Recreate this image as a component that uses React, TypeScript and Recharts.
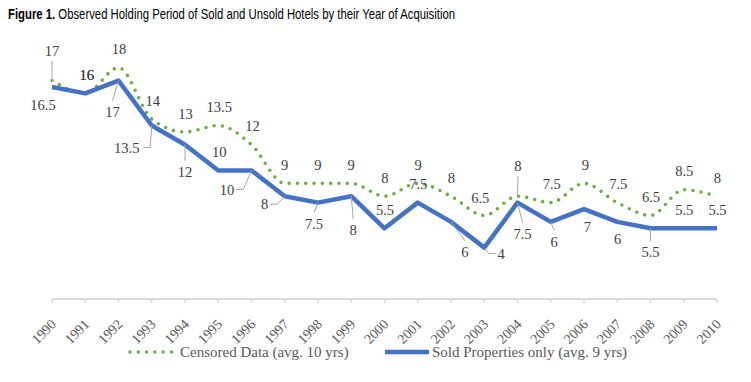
import React from 'react';
import { LineChart, Line, XAxis, YAxis, LabelList } from 'recharts';

// Figure 1 — holding period (years) by year of acquisition
const YEARS = [
  '1990', '1991', '1992', '1993', '1994', '1995', '1996', '1997', '1998', '1999', '2000',
  '2001', '2002', '2003', '2004', '2005', '2006', '2007', '2008', '2009', '2010',
];
const CENSORED = [17, 16, 18, 14, 13, 13.5, 12, 9, 9, 9, 8, 9, 8, 6.5, 8, 7.5, 9, 7.5, 6.5, 8.5, 8];
const SOLD = [16.5, 16, 17, 13.5, 12, 10, 10, 8, 7.5, 8, 5.5, 7.5, 6, 4, 7.5, 6, 7, 6, 5.5, 5.5, 5.5];

const CENSORED_NAME = 'Censored Data (avg. 10 yrs)';
const SOLD_NAME = 'Sold Properties only (avg. 9 yrs)';

// Data label placement, relative to the point: [dx, dy, leader]
// leader: '' none, 'v' from label top/bottom, 's' side stub
type LabelPos = [number, number, string];
const CENSORED_LABELS: LabelPos[] = [
  [0, -30, 'v'], [1.5, -18.5, ''], [0.5, -19, ''], [1, -18.5, ''], [0.5, -18.5, ''],
  [1, -18.5, ''], [1, -18.5, ''], [0, -18.5, ''], [0, -18.5, ''], [0, -18.5, ''],
  [0.5, -18, ''], [0.5, -18.5, ''], [0.5, -18, ''], [-4, -18, ''], [0.5, -30, 'v'],
  [1, -18.5, ''], [1.5, -18.5, ''], [1, -18.5, ''], [0.5, -18.5, ''], [0.5, -18.5, ''],
  [0.5, -18, ''],
];
const SOLD_LABELS: LabelPos[] = [
  [-9, 18, ''], [1.5, -19, ''], [-6, 31, 'v'], [-25, 22, 's'], [0, 27, 'v'],
  [1, -19, ''], [-24.5, 19, 's'], [-20, 8, 's'], [-4, 21, 'v'], [2, 34, 'v'],
  [0.5, -18, ''], [0.5, -19, ''], [14, 30, 'v'], [17, 6, 's'], [5, 31, 'v'],
  [3.5, 20, 'v'], [3.5, 18, ''], [0.5, 17, ''], [0, 24, 'v'], [0.5, -18, ''],
  [0.5, -18, ''],
];

const GREEN = '#70AD47';
const BLUE = '#4472C4';
const AXIS_GREY = '#D9D9D9';
const LEADER_GREY = '#A6A6A6';
const LABEL_INK = '#404040';
const TICK_INK = '#595959';
const SERIF = '"Liberation Serif", "Times New Roman", serif';
const SANS = '"Liberation Sans", Arial, sans-serif';

const W = 751;
const H = 382;
const TITLE_WIDTH = 447;

const rows = YEARS.map((year, i) => ({ year, censored: CENSORED[i], sold: SOLD[i] }));

function makeLabel(positions: LabelPos[]) {
  return (props: any) => {
    const { x, y, value, index } = props;
    if (x == null || y == null) return null;
    const [dx, dy, leader] = positions[index] ?? [0, -18, ''];
    const text = String(value);
    const lx = x + dx;
    const ly = y + dy;
    const hw = text.length * 3.6 + 1;
    let path: React.ReactNode = null;
    if (leader === 'v') {
      const sy = ly + (dy > 0 ? -11 : 10);
      path = <line x1={lx} y1={sy} x2={x} y2={y} stroke={LEADER_GREY} strokeWidth={1} />;
    } else if (leader === 's') {
      const side = dx < 0 ? 1 : -1;
      const sx = lx + side * (hw + 1);
      const ex = sx + side * 7;
      path = (
        <polyline
          points={`${sx},${ly} ${ex},${ly} ${x},${y}`}
          fill="none"
          stroke={LEADER_GREY}
          strokeWidth={1}
        />
      );
    }
    return (
      <g>
        {path}
        <text
          x={lx}
          y={ly}
          dy="0.35em"
          textAnchor="middle"
          fontFamily={SERIF}
          fontSize={14.6}
          fill={LABEL_INK}
        >
          {text}
        </text>
      </g>
    );
  };
}

const YearTick = (props: any) => {
  const { x, y, payload } = props;
  const ax = x + 5;
  const ay = y + 22;
  return (
    <text
      x={ax}
      y={ay}
      transform={`rotate(-45, ${ax}, ${ay})`}
      textAnchor="end"
      fontFamily={SERIF}
      fontSize={14}
      fill={TICK_INK}
    >
      {payload.value}
    </text>
  );
};

// Calibri isn't available, so squeeze a sans title to the original width.
function Title() {
  const ref = React.useRef<HTMLDivElement>(null);
  const [scale, setScale] = React.useState(0.8);
  React.useLayoutEffect(() => {
    if (ref.current) {
      const w = ref.current.scrollWidth;
      if (w > 0) setScale(TITLE_WIDTH / w);
    }
  }, []);
  return (
    <div
      ref={ref}
      style={{
        position: 'absolute',
        left: 8,
        top: 4,
        whiteSpace: 'nowrap',
        fontFamily: SANS,
        fontSize: 15,
        lineHeight: '20px',
        color: '#000',
        transform: `scaleX(${scale})`,
        transformOrigin: '0 0',
      }}
    >
      <b>Figure 1.</b> Observed Holding Period of Sold and Unsold Hotels by their Year of Acquisition
    </div>
  );
}

export default function App() {
  return (
    <div
      style={{
        position: 'absolute',
        left: 0,
        top: 0,
        width: W,
        height: H,
        background: '#FFFFFF',
        overflow: 'hidden',
      }}
    >
      <LineChart
        width={W}
        height={H}
        data={rows}
        margin={{ top: 42, right: 34, left: 52, bottom: 0 }}
      >
        <XAxis
          dataKey="year"
          interval={0}
          height={83}
          axisLine={{ stroke: AXIS_GREY, strokeWidth: 2 }}
          tickLine={{ stroke: AXIS_GREY, strokeWidth: 1.5 }}
          tickSize={4}
          tickMargin={0}
          tick={<YearTick />}
        />
        <YAxis hide domain={[0, 20]} />
        <Line
          type="monotone"
          dataKey="censored"
          name={CENSORED_NAME}
          stroke={GREEN}
          strokeWidth={3.6}
          strokeDasharray="0 8.3"
          strokeLinecap="round"
          dot={false}
          activeDot={false}
          isAnimationActive={false}
        >
          <LabelList dataKey="censored" content={makeLabel(CENSORED_LABELS)} />
        </Line>
        <Line
          type="linear"
          dataKey="sold"
          name={SOLD_NAME}
          stroke={BLUE}
          strokeWidth={4.5}
          strokeLinejoin="round"
          dot={false}
          activeDot={false}
          isAnimationActive={false}
        >
          <LabelList dataKey="sold" content={makeLabel(SOLD_LABELS)} />
        </Line>
      </LineChart>

      <Title />

      {/* legend */}
      <svg
        width={W}
        height={40}
        style={{ position: 'absolute', left: 0, top: 332, pointerEvents: 'none' }}
      >
        <line
          x1={130}
          y1={20}
          x2={172}
          y2={20}
          stroke={GREEN}
          strokeWidth={3.6}
          strokeDasharray="0 8.3"
          strokeLinecap="round"
        />
        <text x={180} y={25} fontFamily={SERIF} fontSize={15} fill={TICK_INK}>
          {CENSORED_NAME}
        </text>
        <line x1={385} y1={20} x2={429} y2={20} stroke={BLUE} strokeWidth={4.5} />
        <text x={432} y={25} fontFamily={SERIF} fontSize={15} fill={TICK_INK}>
          {SOLD_NAME}
        </text>
      </svg>
    </div>
  );
}
